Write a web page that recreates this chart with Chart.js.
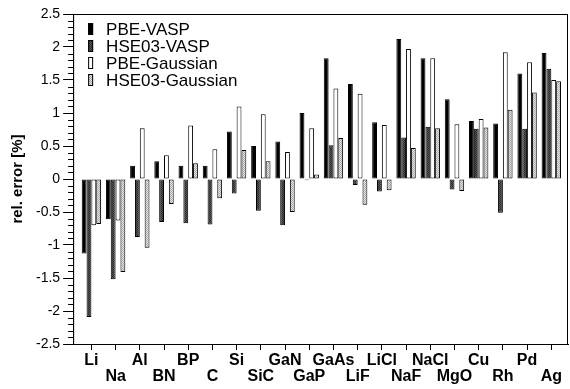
<!DOCTYPE html>
<html>
<head>
<meta charset="utf-8">
<title>rel. error</title>
<script src="https://cdn.jsdelivr.net/npm/chart.js@4.4.1/dist/chart.umd.min.js"></script>
<style>
    body { margin: 0; background: #fff; }
    #wrap { width: 570px; height: 389px; }
</style>
</head>
<body>
<div id="wrap"><canvas id="error-chart" width="570" height="389"></canvas></div>
<script>
const categories = ['Li', 'Na', 'Al', 'BN', 'BP', 'C', 'Si', 'SiC', 'GaN', 'GaP',
    'GaAs', 'LiF', 'LiCl', 'NaF', 'NaCl', 'MgO', 'Cu', 'Rh', 'Pd', 'Ag'];
const pbeVasp = [-1.13, -0.61, 0.20, 0.27, 0.20, 0.20, 0.72, 0.50, 0.57, 1.00,
    1.83, 1.44, 0.86, 2.12, 1.83, 1.21, 0.88, 0.84, 1.60, 1.91];
const hseVasp = [-2.09, -1.52, -0.88, -0.65, -0.67, -0.69, -0.22, -0.48, -0.70, -0.02,
    0.51, -0.09, -0.19, 0.63, 0.79, -0.16, 0.76, -0.51, 0.76, 1.67];
const pbeGaussian = [-0.70, -0.63, 0.77, 0.36, 0.81, 0.45, 1.10, 0.98, 0.41, 0.77,
    1.37, 1.29, 0.82, 1.97, 1.83, 0.83, 0.91, 1.92, 1.77, 1.50];
const hseGaussian = [-0.68, -1.41, -1.04, -0.38, 0.24, -0.29, 0.44, 0.27, -0.50, 0.07,
    0.62, -0.39, -0.17, 0.47, 0.77, -0.18, 0.78, 1.05, 1.31, 1.48];
const yMin = -2.5;
const yMax = 2.5;

const FONT = '"Liberation Sans", Arial, Helvetica, sans-serif';

// small checker textures for the HSE03 bars
function checker(c1, c2) {
    const c = document.createElement('canvas');
    c.width = 2;
    c.height = 2;
    const g = c.getContext('2d');
    g.fillStyle = c1;
    g.fillRect(0, 0, 2, 2);
    g.fillStyle = c2;
    g.fillRect(0, 0, 1, 1);
    g.fillRect(1, 1, 1, 1);
    return g.createPattern(c, 'repeat');
}

function toPoints(values) {
    return values.map((v, i) => ({ x: i, y: v }));
}

// frame, minor y ticks and legend inside the plot
const extras = {
    id: 'extras',
    afterDraw(chart) {
        const ctx = chart.ctx;
        const area = chart.chartArea;
        const y = chart.scales.y;
        ctx.save();
        ctx.strokeStyle = '#000';
        ctx.lineWidth = 1;
        ctx.strokeRect(area.left + 0.5, area.top + 0.5, area.right - area.left - 1, area.bottom - area.top);

        ctx.beginPath();
        for (let i = Math.round(yMin * 10); i <= Math.round(yMax * 10); i++) {
            if (i % 5 === 0) continue;
            const py = Math.round(y.getPixelForValue(i / 10)) + 0.5;
            ctx.moveTo(area.left - 5, py);
            ctx.lineTo(area.left, py);
        }
        ctx.stroke();

        ctx.font = '17px ' + FONT;
        ctx.textBaseline = 'middle';
        chart.data.datasets.forEach((ds, i) => {
            const cy = area.top + 15 + i * 17;
            ctx.fillStyle = ds.backgroundColor;
            ctx.fillRect(area.left + 15, cy - 6, 5, 12);
            ctx.strokeStyle = '#000';
            ctx.strokeRect(area.left + 15.5, cy - 5.5, 4, 11);
            ctx.fillStyle = '#000';
            ctx.fillText(ds.label, area.left + 33, cy + 1);
        });
        ctx.restore();
    }
};

document.addEventListener("DOMContentLoaded", function() {
    const errorChart = document.getElementById('error-chart').getContext('2d');

    const series = [
        { label: 'PBE-VASP', data: pbeVasp, fill: '#000000' },
        { label: 'HSE03-VASP', data: hseVasp, fill: checker('#555555', '#2a2a2a') },
        { label: 'PBE-Gaussian', data: pbeGaussian, fill: '#ffffff' },
        { label: 'HSE03-Gaussian', data: hseGaussian, fill: checker('#e6e6e6', '#a8a8a8') }
    ];

    new Chart(errorChart, {
        type: 'bar',
        data: {
            datasets: series.map(s => ({
                label: s.label,
                data: toPoints(s.data),
                backgroundColor: s.fill,
                borderColor: '#000',
                borderWidth: 1,
                borderSkipped: false,
                categoryPercentage: 0.8,
                barPercentage: 1.0
            }))
        },
        options: {
            responsive: false,
            animation: false,
            layout: {
                padding: { left: 6, right: 2, top: 14, bottom: 1 }
            },
            plugins: {
                legend: { display: false },
                tooltip: { enabled: false }
            },
            scales: {
                x: {
                    type: 'linear',
                    offset: false,
                    min: -0.755,
                    max: 19.69,
                    afterBuildTicks: axis => {
                        axis.ticks = categories.map((c, i) => ({ value: i }));
                    },
                    grid: {
                        offset: false,
                        drawOnChartArea: false,
                        tickLength: 6,
                        tickColor: '#000'
                    },
                    border: { color: '#000', width: 1 },
                    ticks: {
                        autoSkip: false,
                        maxRotation: 0,
                        minRotation: 0,
                        padding: 3,
                        color: '#000',
                        font: { family: FONT, size: 16, weight: 'bold', lineHeight: 1.0 },
                        callback: (value, index) => {
                            const name = categories[Math.round(value)];
                            return index % 2 ? ['', name] : name;
                        }
                    }
                },
                y: {
                    min: yMin,
                    max: yMax,
                    grid: {
                        drawOnChartArea: false,
                        tickLength: 10,
                        tickColor: '#000'
                    },
                    border: { color: '#000', width: 1 },
                    ticks: {
                        stepSize: 0.5,
                        padding: 3,
                        color: '#000',
                        font: { family: FONT, size: 14 },
                        callback: v => String(Math.round(v * 10) / 10)
                    },
                    title: {
                        display: true,
                        text: 'rel. error [%]',
                        color: '#000',
                        font: { family: FONT, size: 15, weight: 'bold' },
                        padding: { top: 3, bottom: 6 }
                    }
                }
            }
        },
        plugins: [extras]
    });
});
</script>
</body>
</html>
